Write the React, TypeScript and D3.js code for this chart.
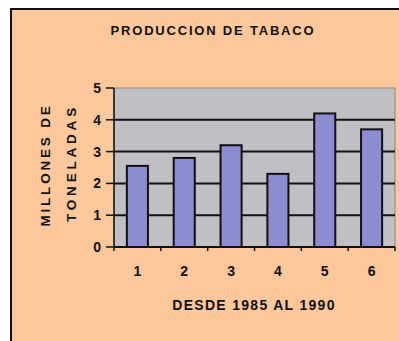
import React from "react";
import * as d3 from "d3";

const categories = ["1", "2", "3", "4", "5", "6"];
const values = [2.55, 2.8, 3.2, 2.3, 4.2, 3.7];
const yTicks = [0, 1, 2, 3, 4, 5];
const title = "PRODUCCION DE TABACO";
const xTitle = "DESDE 1985 AL 1990";
const yTitle = ["MILLONES DE", "TONELADAS"];

export default function App() {
  const W = 399, H = 341;
  const left = 114, right = 395, top = 88, bottom = 247;
  const x = d3.scaleBand().domain(categories).range([left, right]).paddingInner(0.55).paddingOuter(0.275);
  const xb = d3.scaleBand().domain(categories).range([left, right]);
  const y = d3.scaleLinear().domain([0, 5]).range([bottom, top]);
  const font = "'Liberation Sans', Arial, sans-serif";
  return (
    <svg width={W} height={H} style={{ position: "absolute", left: 0, top: 0 }}>
      <rect x={0} y={0} width={W} height={H} fill="#ffffff" />
      <rect x={11} y={9} width={W + 10} height={H + 10} fill="#fcc79a" stroke="#111" strokeWidth={2} />
      <text x={213} y={35} textAnchor="middle" fontFamily={font} fontWeight="bold" fontSize={13} fill="#111" letterSpacing={1.8}>{title}</text>
      <rect x={left} y={top} width={right - left} height={bottom - top} fill="#c0c0c4" stroke="#888" strokeWidth={1} />
      {yTicks.filter(t => t > 0 && t < 5).map(t => (
        <line key={t} x1={left} x2={right} y1={y(t)} y2={y(t)} stroke="#111" strokeWidth={2} />
      ))}
      {categories.map((c, i) => (
        <rect key={c} x={x(c)} y={y(values[i])} width={x.bandwidth()} height={bottom - y(values[i])} fill="#8c8cd0" stroke="#111" strokeWidth={2} />
      ))}
      <line x1={left} x2={left} y1={top} y2={bottom} stroke="#111" strokeWidth={1.5} />
      <line x1={left} x2={right} y1={bottom} y2={bottom} stroke="#111" strokeWidth={2} />
      {yTicks.map(t => (
        <g key={t}>
          <line x1={left - 8} x2={left} y1={y(t)} y2={y(t)} stroke="#111" strokeWidth={1.5} />
          <text x={101} y={y(t)} dy="0.36em" textAnchor="end" fontFamily={font} fontWeight="bold" fontSize={14} fill="#111">{t}</text>
        </g>
      ))}
      {categories.map(c => (
        <line key={"t" + c} x1={(xb(c) as number) + xb.bandwidth()} x2={(xb(c) as number) + xb.bandwidth()} y1={bottom} y2={bottom + 4} stroke="#111" strokeWidth={1.5} />
      ))}
      <line x1={left} x2={left} y1={bottom} y2={bottom + 4} stroke="#111" strokeWidth={1.5} />
      {categories.map(c => (
        <text key={"l" + c} x={(x(c) as number) + x.bandwidth() / 2} y={276} textAnchor="middle" fontFamily={font} fontWeight="bold" fontSize={14} fill="#111">{c}</text>
      ))}
      <text x={254} y={310} textAnchor="middle" fontFamily={font} fontWeight="bold" fontSize={14} fill="#111" letterSpacing={1.3}>{xTitle}</text>
      {yTitle.map((t, i) => (
        <text key={t} transform={`translate(${50 + i * 26},${165 - i * 2}) rotate(-90)`} textAnchor="middle" fontFamily={font} fontWeight="bold" fontSize={13.5} fill="#111" letterSpacing={i === 0 ? 2.8 : 3.8}>{t}</text>
      ))}
    </svg>
  );
}
